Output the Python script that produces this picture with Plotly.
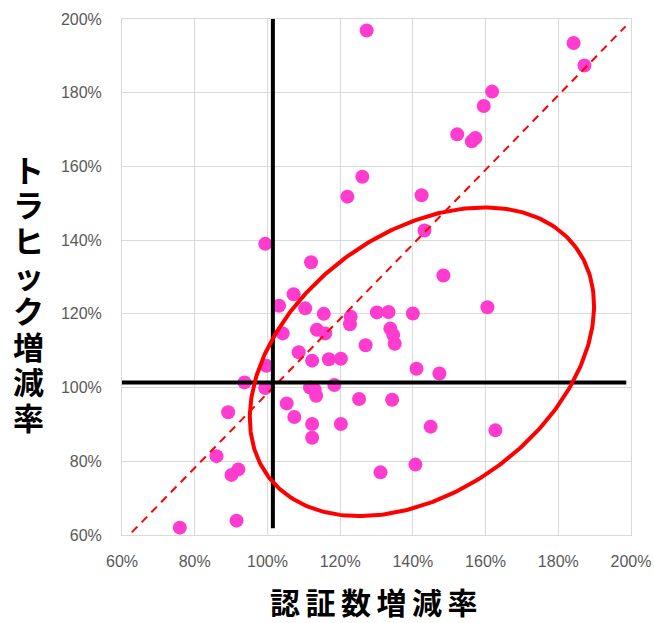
import numpy as np
import plotly.graph_objects as go

# Growth rates of authentications (x) and traffic (y), in percent
auth_growth = [
    127.3, 126.1, 122.0, 99.4, 112.0, 184.2, 187.2, 161.8, 159.5, 152.2,
    156.2, 157.2, 142.4, 143.2, 148.4, 107.2, 103.2, 110.4, 115.5, 122.9,
    122.7, 130.1, 133.3, 140.0, 160.5, 133.8, 134.6, 135.0, 113.6, 115.9,
    104.2, 127.0, 108.6, 112.3, 116.9, 120.2, 99.7, 141.0, 147.3, 93.7,
    99.4, 111.7, 113.0, 113.4, 118.4, 105.3, 125.2, 134.3, 89.2, 107.4,
    112.3, 120.2, 112.3, 86.0, 92.0, 90.1, 91.5, 75.9, 131.1, 140.7,
    144.9, 162.7,
]
traffic_growth = [
    196.9, 157.2, 151.8, 139.0, 134.0, 193.5, 187.4, 180.3, 176.4, 168.7,
    166.8, 167.7, 152.2, 142.6, 130.4, 125.3, 122.2, 121.5, 120.0, 119.2,
    117.2, 120.4, 120.5, 120.1, 121.8, 116.0, 114.3, 111.9, 115.7, 114.7,
    114.7, 111.5, 109.6, 107.3, 107.7, 107.8, 105.9, 105.1, 103.8, 101.4,
    99.9, 100.0, 99.4, 97.8, 100.7, 95.7, 96.9, 96.7, 93.3, 92.0,
    90.1, 90.1, 86.4, 81.4, 77.8, 76.3, 63.9, 62.0, 77.0, 79.1,
    89.4, 88.4,
]

axis_ticks = [60, 80, 100, 120, 140, 160, 180, 200]
x_title = "認証数増減率"
y_title = "トラヒック増減率"

# Reference lines (percent)
cross_x = 101.5                      # vertical divider
cross_x_span = [61.8, 200.0]
cross_y = 101.4                      # horizontal divider
cross_y_span = [60.0, 198.7]
diag_x = [60.0, 198.5]               # dashed trend line
diag_y = [58.0, 198.0]

# Highlight ellipse: centre (percent), semi-axes (in x-axis percent), tilt (deg)
ell_center = (142.5, 107.0)
ell_semi = (52.75, 35.5)
ell_tilt = 36.6

W, H = 654, 623
M = dict(l=122, r=23, t=19, b=88)
X_RANGE = [60, 200]
Y_RANGE = [60, 200]
PLOT_W = W - M["l"] - M["r"]
PLOT_H = H - M["t"] - M["b"]

px_x = PLOT_W / (X_RANGE[1] - X_RANGE[0])
px_y = PLOT_H / (Y_RANGE[1] - Y_RANGE[0])


def pct(v):
    return [a / 100 for a in v]


def paper_x(px):
    return (px - M["l"]) / PLOT_W


def paper_y(py):
    return 1 - (py - M["t"]) / PLOT_H


# Ellipse outline, built in screen space so the tilt reads correctly
t = np.linspace(0, 2 * np.pi, 361)
a_px, b_px = ell_semi[0] * px_x, ell_semi[1] * px_x
th = np.radians(ell_tilt)
dx = a_px * np.cos(t) * np.cos(th) - b_px * np.sin(t) * np.sin(th)
dy = a_px * np.cos(t) * np.sin(th) + b_px * np.sin(t) * np.cos(th)
ell_x = (ell_center[0] + dx / px_x) / 100
ell_y = (ell_center[1] + dy / px_y) / 100

fig = go.Figure()

fig.add_trace(go.Scatter(
    x=pct(auth_growth), y=pct(traffic_growth), mode="markers",
    marker=dict(size=14, color="#FF3CCF", line=dict(width=0)),
    hoverinfo="x+y",
))

fig.add_trace(go.Scatter(
    x=pct(diag_x), y=pct(diag_y), mode="lines",
    line=dict(color="#FF0000", width=2, dash="8px,6px"), hoverinfo="skip",
))

fig.add_trace(go.Scatter(
    x=pct([cross_x, cross_x]), y=pct(cross_x_span), mode="lines",
    line=dict(color="#000000", width=4), hoverinfo="skip",
))
fig.add_trace(go.Scatter(
    x=pct(cross_y_span), y=pct([cross_y, cross_y]), mode="lines",
    line=dict(color="#000000", width=4), hoverinfo="skip",
))

fig.add_trace(go.Scatter(
    x=ell_x, y=ell_y, mode="lines",
    line=dict(color="#FF0000", width=4), hoverinfo="skip",
))

tick_font = dict(family="Liberation Sans, Arial, sans-serif", size=16, color="#595959")
grid = "#D9D9D9"

fig.update_xaxes(
    range=pct(X_RANGE), tickvals=pct(axis_ticks), tickformat=".0%",
    showgrid=True, gridcolor=grid, gridwidth=1,
    showline=True, linecolor=grid, linewidth=1, mirror=True,
    zeroline=False, ticks="", tickfont=tick_font, ticklabelstandoff=12,
    automargin=False,
)
fig.update_yaxes(
    range=pct(Y_RANGE), tickvals=pct(axis_ticks), tickformat=".0%",
    showgrid=True, gridcolor=grid, gridwidth=1,
    showline=True, linecolor=grid, linewidth=1, mirror=True,
    zeroline=False, ticks="", tickfont=tick_font, ticklabelstandoff=16,
    automargin=False,
)

# X title: slightly tracked-out bold heading under the axis
fig.add_annotation(
    text="<span style='letter-spacing:5.5px'>" + x_title + "</span>",
    xref="paper", yref="paper",
    x=paper_x(376.5), y=paper_y(601),
    xanchor="center", yanchor="middle", showarrow=False,
    font=dict(family="Noto Sans CJK JP", size=30, color="#000000", weight="bold"),
)

# Y title: upright characters stacked in a column; the base size sets the
# line pitch, the inner span sets the glyph size
y_stack = "<br>".join(
    "<span style='font-size:31px'>" + ch + "</span>" for ch in y_title
)
fig.add_annotation(
    text=y_stack, xref="paper", yref="paper",
    x=paper_x(28), y=paper_y(292.5),
    xanchor="center", yanchor="middle", showarrow=False,
    font=dict(family="Noto Sans CJK JP", size=27.2, color="#000000", weight="bold"),
)

fig.update_layout(
    width=W, height=H, autosize=False, margin=M,
    plot_bgcolor="white", paper_bgcolor="white", showlegend=False,
)

fig.write_html("out.html")
